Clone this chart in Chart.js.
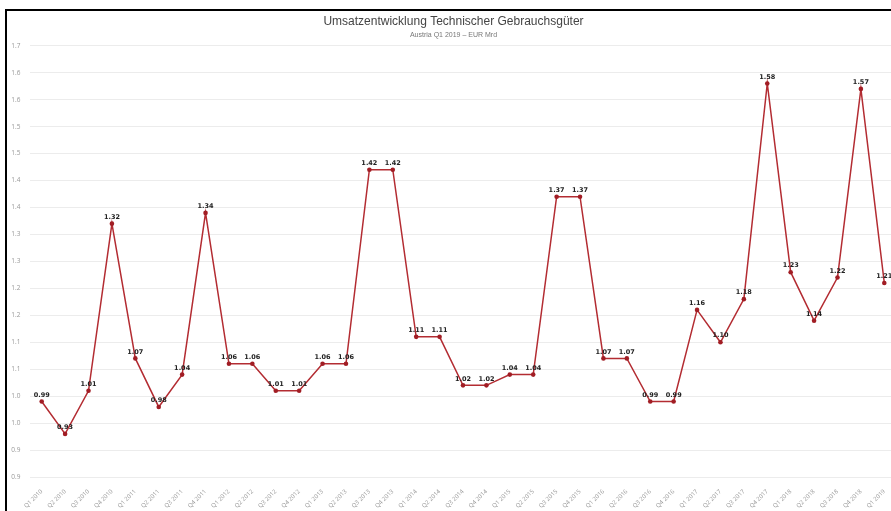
<!DOCTYPE html>
<html>
<head>
<meta charset="utf-8">
<script src="https://cdn.jsdelivr.net/npm/chart.js@4.4.1/dist/chart.umd.min.js"></script>
<style>
  html, body { margin: 0; padding: 0; background: #fff; overflow: hidden; width: 891px; height: 511px; }
  #frame { position: absolute; left: 5px; top: 9px; width: 1000px; height: 600px; border-left: 2px solid #000; border-top: 2px solid #000; }
  #wrap { position: absolute; left: 7px; top: 11px; width: 906px; height: 500px; }
</style>
</head>
<body>
<div id="frame"></div>
<div id="wrap"><canvas id="c"></canvas></div>
<script>
const categories = ['Q1 2010','Q2 2010','Q3 2010','Q4 2010','Q1 2011','Q2 2011','Q3 2011','Q4 2011',
  'Q1 2012','Q2 2012','Q3 2012','Q4 2012','Q1 2013','Q2 2013','Q3 2013','Q4 2013',
  'Q1 2014','Q2 2014','Q3 2014','Q4 2014','Q1 2015','Q2 2015','Q3 2015','Q4 2015',
  'Q1 2016','Q2 2016','Q3 2016','Q4 2016','Q1 2017','Q2 2017','Q3 2017','Q4 2017',
  'Q1 2018','Q2 2018','Q3 2018','Q4 2018','Q1 2019'];
const revenue = [0.99,0.93,1.01,1.32,1.07,0.98,1.04,1.34,
  1.06,1.06,1.01,1.01,1.06,1.06,1.42,1.42,
  1.11,1.11,1.02,1.02,1.04,1.04,1.37,1.37,
  1.07,1.07,0.99,0.99,1.16,1.10,1.18,1.58,
  1.23,1.14,1.22,1.57,1.21];
// bottom to top
const yTickLabels = ['0.9','0.9','1.0','1.0','1.1','1.1','1.2','1.2','1.3','1.3','1.4','1.4','1.5','1.5','1.6','1.6','1.7'];
const titleText = 'Umsatzentwicklung Technischer Gebrauchsgüter';
const subtitleText = 'Austria Q1 2019 – EUR Mrd';

const valueLabels = {
  id: 'valueLabels',
  afterDatasetsDraw(chart) {
    const ctx = chart.ctx;
    const meta = chart.getDatasetMeta(0);
    ctx.save();
    ctx.font = 'bold 6.5px "DejaVu Sans"';
    ctx.fillStyle = '#222';
    ctx.textAlign = 'center';
    ctx.textBaseline = 'middle';
    meta.data.forEach((el, i) => {
      ctx.fillText(revenue[i].toFixed(2), el.x, el.y - 6.5);
    });
    ctx.restore();
  }
};

new Chart(document.getElementById('c'), {
  type: 'line',
  data: {
    labels: categories,
    datasets: [{
      data: revenue,
      borderColor: '#b32c32',
      borderWidth: 1.5,
      backgroundColor: '#a11d24',
      pointBackgroundColor: '#a11d24',
      pointBorderColor: '#a11d24',
      pointRadius: 2.3,
      pointBorderWidth: 0,
      tension: 0,
      fill: false
    }]
  },
  options: {
    responsive: true,
    maintainAspectRatio: false,
    animation: false,
    layout: { padding: { left: 4, right: 17, top: 0, bottom: 0 } },
    plugins: {
      legend: { display: false },
      tooltip: { enabled: false },
      title: {
        display: true, text: titleText, color: '#444',
        font: { family: '"Liberation Sans", sans-serif', size: 12, weight: 'normal' },
        padding: { top: 3, bottom: 2 }
      },
      subtitle: {
        display: true, text: subtitleText, color: '#777',
        font: { family: '"Liberation Sans", sans-serif', size: 7 },
        padding: { top: 0, bottom: 7 }
      }
    },
    scales: {
      x: {
        type: 'category',
        offset: true,
        grid: { display: false },
        border: { display: false },
        afterFit: (s) => { s.paddingLeft = 0; s.paddingRight = 0; s.height = 34; },
        ticks: {
          autoSkip: false, maxRotation: 45, minRotation: 45,
          color: '#999', padding: 3,
          font: { family: '"Open Sans", sans-serif', size: 6 }
        }
      },
      y: {
        min: 0.85, max: 1.65,
        afterFit: (s) => { s.width = 19; },
        grid: { color: '#ececec', drawTicks: false, lineWidth: 1 },
        border: { display: false },
        ticks: {
          stepSize: 0.05, color: '#999', padding: 9.5,
          font: { family: '"Open Sans", sans-serif', size: 6.5 },
          callback: (v, i) => yTickLabels[i]
        }
      }
    }
  },
  plugins: [valueLabels]
});
</script>
</body>
</html>
